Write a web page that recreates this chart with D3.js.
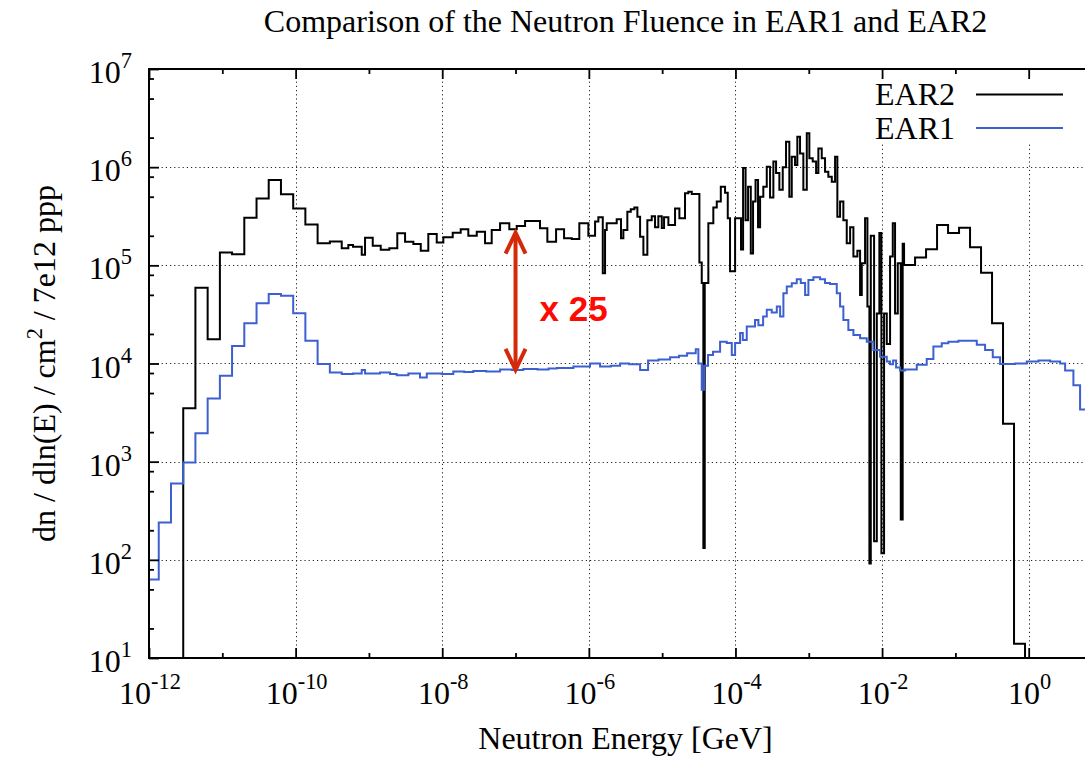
<!DOCTYPE html>
<html>
<head>
<meta charset="utf-8">
<script src="https://cdn.jsdelivr.net/npm/d3@7"></script>
<style>
  body { margin: 0; background: #fff; }
  svg { display: block; }
  text { font-family: "Liberation Serif", "Times New Roman", serif; fill: #000; }
</style>
</head>
<body>
<svg id="chart" width="1085" height="759"></svg>
<script>
// ---- axis tick data ----
const xMajorExponents = [-12, -10, -8, -6, -4, -2, 0];
const xMinorExponents = [-11, -9, -7, -5, -3, -1];
const yMajorExponents = [1, 2, 3, 4, 5, 6, 7];
const yMinorFactors = [2, 5, 8];

// ---- series: [log10(lower bin edge / GeV), dn/dln(E) per cm^2 per 7e12 protons] ----
const ear2Bins = [
  [-12.0, 0], [-11.533, 3.5e3], [-11.367, 5.9e4], [-11.2, 1.77e4], [-11.033, 1.35e5],
  [-10.867, 1.3e5], [-10.7, 3.06e5], [-10.533, 4.8e5], [-10.367, 7.4e5], [-10.2, 5.3e5],
  [-10.033, 3.8e5], [-9.867, 2.6e5], [-9.7, 1.68e5], [-9.533, 1.75e5], [-9.371, 1.49e5],
  [-9.281, 1.61e5], [-9.217, 1.55e5], [-9.098, 1.28e5], [-9.053, 1.91e5], [-8.948, 1.58e5],
  [-8.839, 1.44e5], [-8.722, 1.49e5], [-8.613, 2.12e5], [-8.507, 1.74e5], [-8.394, 1.65e5],
  [-8.293, 1.41e5], [-8.19, 2.09e5], [-8.075, 1.71e5], [-7.985, 1.93e5], [-7.857, 2.15e5],
  [-7.748, 2.33e5], [-7.644, 2.0e5], [-7.529, 2.2e5], [-7.416, 1.68e5], [-7.325, 2.29e5],
  [-7.211, 2.69e5], [-7.085, 2.33e5], [-6.984, 2.51e5], [-6.87, 2.83e5], [-6.666, 2.39e5],
  [-6.566, 1.74e5], [-6.447, 2.33e5], [-6.338, 1.89e5], [-6.233, 1.85e5], [-6.13, 2.69e5],
  [-6.007, 2.0e5], [-5.915, 2.79e5], [-5.87, 3.09e5], [-5.81, 8.3e4], [-5.779, 2.29e5],
  [-5.756, 2.69e5], [-5.62, 2.95e5], [-5.561, 1.89e5], [-5.529, 2.29e5], [-5.475, 3.52e5],
  [-5.428, 3.72e5], [-5.379, 3.89e5], [-5.338, 3.13e5], [-5.301, 1.95e5], [-5.256, 1.28e5],
  [-5.202, 2.88e5], [-5.142, 3.16e5], [-5.097, 2.45e5], [-5.052, 3.16e5], [-5.005, 2.4e5],
  [-4.974, 3.09e5], [-4.915, 2.57e5], [-4.824, 3.8e5], [-4.765, 3.02e5], [-4.688, 5.42e5],
  [-4.643, 5.62e5], [-4.596, 5.33e5], [-4.492, 1.07e5], [-4.46, 6.6e4], [-4.438, 1.32e2],
  [-4.419, 6.6e4], [-4.37, 2.69e5], [-4.302, 3.89e5], [-4.255, 4.47e5], [-4.2, 6.31e5],
  [-4.142, 5.5e5], [-4.105, 3.02e5], [-4.074, 8.7e4], [-4.005, 3.02e5], [-3.924, 1.45e5],
  [-3.896, 9.8e5], [-3.862, 2.88e5], [-3.828, 6.31e5], [-3.791, 1.32e5], [-3.76, 4.47e5],
  [-3.726, 7.41e5], [-3.692, 2.45e5], [-3.664, 5.0e5], [-3.62, 6.31e5], [-3.573, 1.01e6],
  [-3.528, 4.9e5], [-3.483, 1.14e6], [-3.446, 8.7e5], [-3.401, 5.9e5], [-3.355, 1.0e6],
  [-3.31, 1.82e6], [-3.265, 5.0e5], [-3.232, 1.28e6], [-3.187, 1.05e6], [-3.156, 2.04e6],
  [-3.119, 1.38e6], [-3.074, 5.9e5], [-3.027, 2.21e6], [-2.992, 1.23e6], [-2.946, 1.14e6],
  [-2.9, 8.7e5], [-2.869, 1.55e6], [-2.823, 1.23e6], [-2.778, 9.0e5], [-2.733, 8.0e5],
  [-2.686, 7.1e5], [-2.641, 1.28e6], [-2.61, 3.13e5], [-2.573, 4.47e5], [-2.528, 2.88e5],
  [-2.482, 1.68e5], [-2.436, 2.45e5], [-2.391, 1.23e5], [-2.337, 1.41e5], [-2.3, 5.0e4],
  [-2.277, 1.05e5], [-2.232, 3.02e5], [-2.2, 3.8e4], [-2.173, 92], [-2.154, 2.0e5],
  [-2.109, 155], [-2.072, 3.24e4], [-2.037, 2.14e5], [-2.009, 117], [-1.973, 3.24e4],
  [-1.936, 1.58e4], [-1.891, 1.23e5], [-1.854, 2.69e5], [-1.823, 3.24e4], [-1.786, 1.05e5],
  [-1.745, 257], [-1.719, 1.66e5], [-1.7, 1.01e5], [-1.55, 1.2e5], [-1.4, 1.46e5],
  [-1.25, 2.57e5], [-1.1, 2.14e5], [-0.95, 2.42e5], [-0.8, 1.53e5], [-0.65, 8.4e4],
  [-0.5, 2.57e4], [-0.35, 2.43e3], [-0.2, 14], [-0.05, 0]
];
const ear2UpperEdge = 1.0;

const ear1Bins = [
  [-12.033, 63], [-11.867, 240], [-11.7, 600], [-11.533, 980], [-11.367, 1.95e3],
  [-11.2, 4.4e3], [-11.033, 7.5e3], [-10.867, 1.51e4], [-10.7, 2.57e4], [-10.533, 4.1e4],
  [-10.367, 5.1e4], [-10.2, 4.9e4], [-10.033, 3.25e4], [-9.867, 1.71e4], [-9.7, 9.9e3],
  [-9.533, 8.1e3], [-9.371, 7.8e3], [-9.217, 7.9e3], [-9.098, 8.6e3], [-9.053, 7.9e3],
  [-8.849, 8.1e3], [-8.712, 7.8e3], [-8.621, 7.6e3], [-8.462, 7.9e3], [-8.303, 7.2e3],
  [-8.211, 7.9e3], [-8.007, 7.8e3], [-7.849, 8.3e3], [-7.7, 8.2e3], [-7.576, 8.4e3],
  [-7.4, 8.3e3], [-7.211, 8.7e3], [-7.05, 8.6e3], [-6.894, 8.8e3], [-6.7, 8.7e3],
  [-6.55, 8.9e3], [-6.438, 9.0e3], [-6.211, 9.3e3], [-5.984, 1.0e4], [-5.847, 9.3e3],
  [-5.7, 9.5e3], [-5.574, 1.0e4], [-5.45, 9.8e3], [-5.301, 8.6e3], [-5.192, 1.07e4],
  [-5.05, 1.1e4], [-4.892, 1.16e4], [-4.77, 1.2e4], [-4.66, 1.27e4], [-4.542, 1.4e4],
  [-4.506, 1.0e4], [-4.46, 5.4e3], [-4.428, 9.5e3], [-4.374, 1.22e4], [-4.306, 1.32e4],
  [-4.21, 1.67e4], [-4.119, 1.62e4], [-4.05, 1.22e4], [-4.005, 1.62e4], [-3.937, 2.04e4],
  [-3.9, 1.74e4], [-3.846, 2.38e4], [-3.733, 2.78e4], [-3.687, 2.45e4], [-3.623, 3.02e4],
  [-3.573, 3.52e4], [-3.505, 3.31e4], [-3.436, 3.8e4], [-3.391, 3.02e4], [-3.346, 5.2e4],
  [-3.3, 6.07e4], [-3.232, 6.56e4], [-3.164, 7.2e4], [-3.109, 6.6e4], [-3.05, 5.0e4],
  [-3.005, 7.08e4], [-2.937, 7.57e4], [-2.846, 7.2e4], [-2.778, 6.6e4], [-2.71, 6.46e4],
  [-2.618, 5.2e4], [-2.573, 3.8e4], [-2.528, 2.78e4], [-2.46, 2.2e4], [-2.391, 1.95e4],
  [-2.3, 1.81e4], [-2.209, 1.67e4], [-2.119, 1.37e4], [-2.027, 1.17e4], [-1.936, 1.05e4],
  [-1.891, 9.8e3], [-1.85, 1.07e4], [-1.809, 9.1e3], [-1.755, 8.5e3], [-1.686, 8.7e3],
  [-1.527, 9.7e3], [-1.391, 1.11e4], [-1.3, 1.49e4], [-1.186, 1.61e4], [-1.096, 1.67e4],
  [-0.959, 1.71e4], [-0.708, 1.55e4], [-0.595, 1.37e4], [-0.49, 1.16e4], [-0.39, 9.9e3],
  [-0.186, 1.0e4], [-0.026, 1.05e4], [0.133, 1.07e4], [0.292, 1.05e4], [0.429, 1.0e4],
  [0.497, 8.5e3], [0.61, 6.0e3], [0.701, 3.4e3]
];
const ear1UpperEdge = 1.0;

// ---- ratio annotation ----
const ratioEnergy = 1e-7;
const ratioBase = 8.6e3;
const ratioFactor = 25;

// ---- texts ----
const titleText = "Comparison of the Neutron Fluence in EAR1 and EAR2";
const xTitle = "Neutron Energy [GeV]";
const yTitleParts = ["dn / dln(E) / cm", "2", " / 7e12 ppp"];
const seriesNames = ["EAR2", "EAR1"];
const seriesColors = ["#000000", "#3d60d0"];

// ---- layout ----
const plot = { left: 149, right: 1102, top: 69, bottom: 658 };
const svg = d3.select("#chart");
const x = d3.scaleLog().domain([1e-12, 10]).range([plot.left, plot.right]);
const y = d3.scaleLog().domain([1e1, 1e7]).range([plot.bottom, plot.top]);
const FS = 32, SUP = 22.4;

svg.append("defs").append("clipPath").attr("id", "plotClip")
  .append("rect")
  .attr("x", plot.left).attr("y", plot.top)
  .attr("width", plot.right - plot.left).attr("height", plot.bottom - plot.top);

// grid (dotted, at labelled decades)
const grid = svg.append("g")
  .attr("stroke", "#222").attr("stroke-width", 1).attr("stroke-dasharray", "1.2,3");
grid.selectAll("line.gx")
  .data(xMajorExponents.filter(e => e > -12))
  .join("line")
  .attr("x1", e => Math.round(x(10 ** e)) + 0.5).attr("x2", e => Math.round(x(10 ** e)) + 0.5)
  .attr("y1", plot.top).attr("y2", plot.bottom);
grid.selectAll("line.gy")
  .data(yMajorExponents.filter(e => e < 7 && e > 1))
  .join("line")
  .attr("class", "gy")
  .attr("x1", plot.left).attr("x2", plot.right)
  .attr("y1", e => Math.round(y(10 ** e)) + 0.5).attr("y2", e => Math.round(y(10 ** e)) + 0.5);

// legend box (opaque, hides the grid behind the key)
svg.append("rect")
  .attr("x", 866).attr("y", 77).attr("width", 214).attr("height", 67)
  .attr("fill", "#fff");

// histogram step lines
function stepPoints(bins, upper) {
  const pts = bins.map(b => [10 ** b[0], b[1]]);
  pts.push([10 ** upper, bins[bins.length - 1][1]]);
  return pts;
}
const floorValue = 1; // empty bins fall below the visible range
const stepLine = d3.line()
  .x(d => x(d[0]))
  .y(d => y(Math.max(d[1], floorValue)))
  .curve(d3.curveStepAfter);

const dataLayer = svg.append("g").attr("clip-path", "url(#plotClip)");
[[ear2Bins, ear2UpperEdge, seriesColors[0]], [ear1Bins, ear1UpperEdge, seriesColors[1]]]
  .forEach(([bins, upper, color]) => {
    dataLayer.append("path")
      .attr("d", stepLine(stepPoints(bins, upper)))
      .attr("fill", "none")
      .attr("stroke", color)
      .attr("stroke-width", 2)
      .attr("stroke-linejoin", "miter");
  });

// axes: ticks pointing into the plot on all sides
const tickStyle = g => {
  g.select(".domain").remove();
  g.selectAll(".tick line").attr("stroke", "#000").attr("stroke-width", 1.8);
};
const majorX = xMajorExponents.map(e => 10 ** e);
const minorX = xMinorExponents.map(e => 10 ** e);
const majorY = yMajorExponents.map(e => 10 ** e);
const minorY = yMajorExponents.slice(0, -1).flatMap(e => yMinorFactors.map(f => f * 10 ** e));

svg.append("g").attr("transform", `translate(0,${plot.bottom})`)
  .call(d3.axisBottom(x).tickValues(majorX).tickSizeInner(-10).tickSizeOuter(0).tickFormat(() => ""))
  .call(tickStyle);
svg.append("g").attr("transform", `translate(0,${plot.bottom})`)
  .call(d3.axisBottom(x).tickValues(minorX).tickSizeInner(-5).tickSizeOuter(0).tickFormat(() => ""))
  .call(tickStyle);
svg.append("g").attr("transform", `translate(0,${plot.top})`)
  .call(d3.axisTop(x).tickValues(majorX).tickSizeInner(-10).tickSizeOuter(0).tickFormat(() => ""))
  .call(tickStyle);
svg.append("g").attr("transform", `translate(0,${plot.top})`)
  .call(d3.axisTop(x).tickValues(minorX).tickSizeInner(-5).tickSizeOuter(0).tickFormat(() => ""))
  .call(tickStyle);
svg.append("g").attr("transform", `translate(${plot.left},0)`)
  .call(d3.axisLeft(y).tickValues(majorY).tickSizeInner(-10).tickSizeOuter(0).tickFormat(() => ""))
  .call(tickStyle);
svg.append("g").attr("transform", `translate(${plot.left},0)`)
  .call(d3.axisLeft(y).tickValues(minorY).tickSizeInner(-5).tickSizeOuter(0).tickFormat(() => ""))
  .call(tickStyle);

// border
svg.append("rect")
  .attr("x", plot.left).attr("y", plot.top)
  .attr("width", plot.right - plot.left).attr("height", plot.bottom - plot.top)
  .attr("fill", "none").attr("stroke", "#000").attr("stroke-width", 2);

// tick labels as 10^n
function powerLabel(sel, exponent) {
  sel.append("tspan").text("10");
  sel.append("tspan").attr("dy", -15).attr("font-size", SUP).text(String(exponent));
}
svg.append("g").selectAll("text")
  .data(xMajorExponents)
  .join("text")
  .attr("x", e => x(10 ** e) + 1)
  .attr("y", 704)
  .attr("text-anchor", "middle")
  .attr("font-size", FS)
  .each(function (e) { powerLabel(d3.select(this), e); });
svg.append("g").selectAll("text")
  .data(yMajorExponents)
  .join("text")
  .attr("x", 132)
  .attr("y", e => y(10 ** e) + 14)
  .attr("text-anchor", "end")
  .attr("font-size", FS)
  .each(function (e) { powerLabel(d3.select(this), e); });

// titles
svg.append("text")
  .attr("x", (plot.left + plot.right) / 2).attr("y", 32)
  .attr("text-anchor", "middle").attr("font-size", FS)
  .text(titleText);
svg.append("text")
  .attr("x", (plot.left + plot.right) / 2).attr("y", 749)
  .attr("text-anchor", "middle").attr("font-size", FS)
  .text(xTitle);
const yMid = (plot.top + plot.bottom) / 2;
const yt = svg.append("text")
  .attr("transform", `translate(55,${yMid}) rotate(-90)`)
  .attr("text-anchor", "middle").attr("font-size", FS);
yt.append("tspan").text(yTitleParts[0]);
yt.append("tspan").attr("dy", -13).attr("font-size", SUP).text(yTitleParts[1]);
yt.append("tspan").attr("dy", 13).text(yTitleParts[2]);

// legend
const legendRows = [105, 138.5];
seriesNames.forEach((name, i) => {
  svg.append("text")
    .attr("x", 955).attr("y", legendRows[i])
    .attr("text-anchor", "end").attr("font-size", FS)
    .text(name);
  svg.append("line")
    .attr("x1", 976).attr("x2", 1063)
    .attr("y1", legendRows[i] - 10.5).attr("y2", legendRows[i] - 10.5)
    .attr("stroke", seriesColors[i]).attr("stroke-width", 2);
});

// ratio arrow between the two spectra
const ax = x(ratioEnergy);
const yLow = y(ratioBase);
const yHigh = y(ratioBase * ratioFactor);
const arrow = svg.append("g")
  .attr("fill", "none").attr("stroke", "#d42a0a").attr("stroke-width", 4)
  .attr("stroke-linejoin", "miter");
arrow.append("line").attr("x1", ax).attr("x2", ax).attr("y1", yHigh + 2).attr("y2", yLow - 2);
arrow.append("path").attr("d", `M${ax - 10},${yHigh + 21}L${ax},${yHigh}L${ax + 10},${yHigh + 21}`);
arrow.append("path").attr("d", `M${ax - 10},${yLow - 21}L${ax},${yLow}L${ax + 10},${yLow - 21}`);
svg.append("text")
  .attr("x", ax + 24).attr("y", (yHigh + yLow) / 2 + 20)
  .style("font-family", '"Liberation Sans", Arial, sans-serif')
  .attr("font-weight", "bold").attr("font-size", 35)
  .style("fill", "#ff0a00")
  .text("x " + ratioFactor);
</script>
</body>
</html>
